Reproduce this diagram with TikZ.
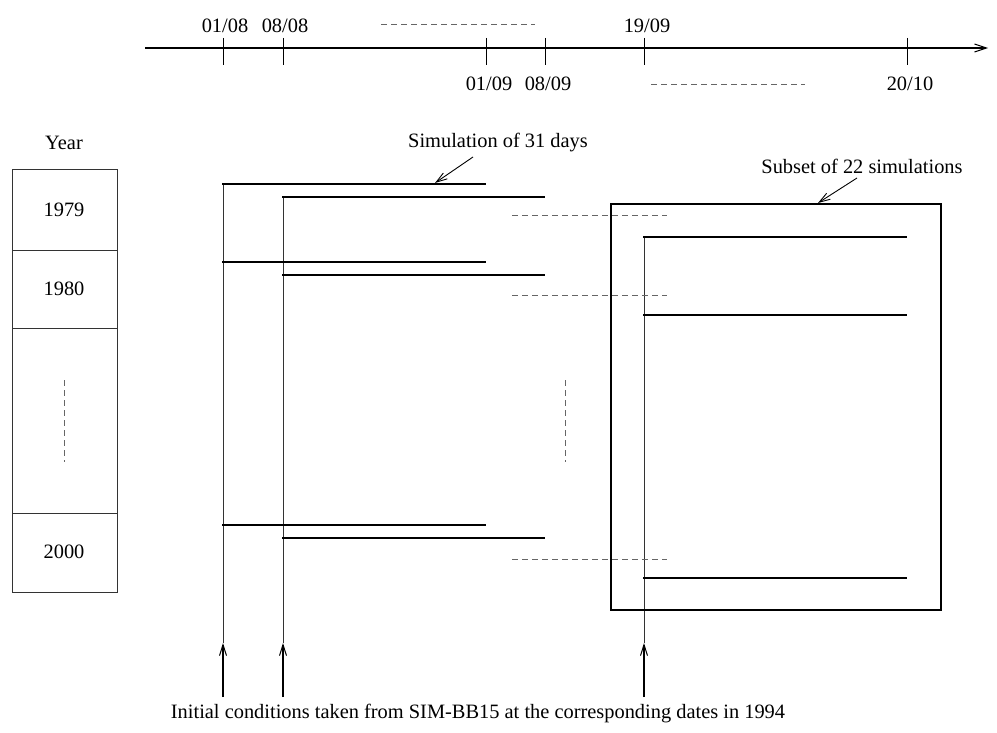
\documentclass[tikz,border=0pt]{standalone}
\usepackage{fontspec}
\setmainfont{Liberation Serif}
\usetikzlibrary{arrows.meta}
\tikzset{
  lbl/.style={font=\fontsize{20.4}{24}\selectfont, inner sep=0pt, anchor=center},
  sim/.style={line width=2.6pt, line cap=butt},
  thin/.style={line width=1pt, black!80},
  dsh/.style={line width=1pt, black!60, dash pattern=on 5.5pt off 4.5pt},
  up/.style={line width=1.6pt, -{Straight Barb[length=11pt,width=7pt,line width=1pt]}},
  callout/.style={line width=0.9pt, -{Straight Barb[length=11pt,width=7pt,line width=0.9pt]}},
}
\begin{document}
\begin{tikzpicture}[x=1pt,y=-1pt]
\useasboundingbox (0,0) rectangle (997,733);
% timeline
\coordinate (t0) at (145,48);
\coordinate (t1) at (988,48);
\draw[line width=1.2pt, -{Straight Barb[length=12pt,width=8pt,line width=1pt]}] (t0) -- (t1);
\foreach \x in {223,283,486,545,644,907} \draw[line width=1pt] (\x,38) -- (\x,65);
\node[lbl] (d1) at (225,26) {01/08};
\node[lbl] (d2) at (285,26) {08/08};
\node[lbl] (d3) at (489,84) {01/09};
\node[lbl] (d4) at (548,84) {08/09};
\node[lbl] (d5) at (647,26) {19/09};
\node[lbl] (d6) at (910,84) {20/10};
\draw[dsh] (381,25) -- (535,25);
\draw[dsh] (651,85) -- (805,85);
% year column
\node[lbl] (year) at (64,143) {Year};
\draw[line width=1pt, black!80] (12,170) rectangle (117,592);
\foreach \y in {250,328,513} \draw[line width=1pt, black!80] (12,\y) -- (117,\y);
\node[lbl] (y79) at (64,210) {1979};
\node[lbl] (y80) at (64,289) {1980};
\node[lbl] (y00) at (64,552) {2000};
\draw[dsh] (64,380) -- (64,462);
% vertical initial-condition lines
\coordinate (a1) at (223,643); \coordinate (b1) at (223,697);
\coordinate (a2) at (283,643); \coordinate (b2) at (283,697);
\coordinate (a3) at (644,643); \coordinate (b3) at (644,697);
\draw[thin] (223,184) -- (a1);
\draw[thin] (283,197) -- (a2);
\draw[thin] (644,237) -- (a3);
\draw[up] (b1) -- (a1);
\draw[up] (b2) -- (a2);
\draw[up] (b3) -- (a3);
% simulations
\foreach \y in {184,262,525} \draw[sim] (222,\y) -- (486,\y);
\foreach \y in {197,275,538} \draw[sim] (282,\y) -- (545,\y);
\foreach \y in {237,315,578} \draw[sim] (643,\y) -- (907,\y);
\foreach \y in {216,295,559} \draw[dsh] (512,\y) -- (667,\y);
\draw[dsh] (565,380) -- (565,462);
% subset box
\draw[line width=2.6pt] (611,204) rectangle (941,610);
% callouts
\node[lbl] (simlbl) at (498,143) {Simulation of 31 days};
\coordinate (s1) at (473,157); \coordinate (s2) at (435,183);
\draw[callout] (s1) -- (s2);
\node[lbl] (sublbl) at (862,166) {Subset of 22 simulations};
\coordinate (u1) at (857,178); \coordinate (u2) at (818,203);
\draw[callout] (u1) -- (u2);
\node[lbl] (init) at (478,714) {Initial conditions taken from SIM-BB15 at the corresponding dates in 1994};
\end{tikzpicture}
\end{document}
